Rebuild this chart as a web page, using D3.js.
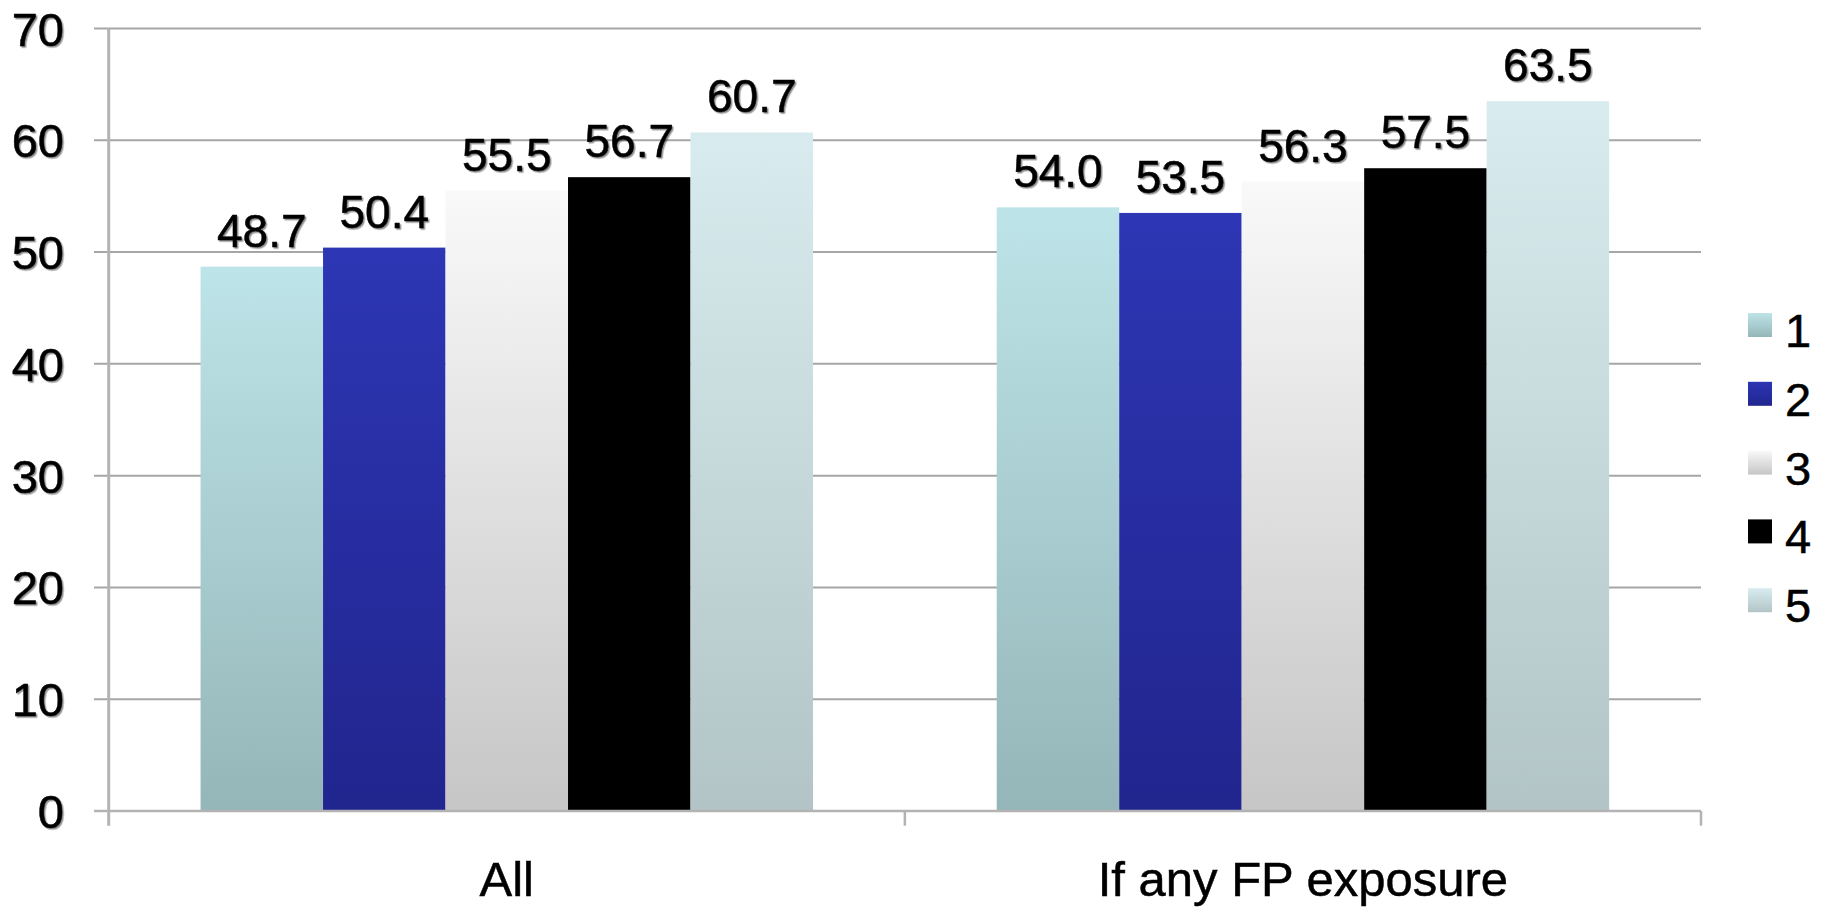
<!DOCTYPE html>
<html>
<head>
<meta charset="utf-8">
<script src="https://cdn.jsdelivr.net/npm/d3@7/dist/d3.min.js"></script>
<style>
  html, body { margin: 0; padding: 0; background: #fff; }
  svg { display: block; font-family: Arial, "Liberation Sans", sans-serif; }
  text { stroke: #000; stroke-width: 0.5px; }
</style>
</head>
<body>
<svg id="chart" width="1821" height="909"></svg>
<script>
// Groups along the x axis and the five series shown in each group
const categories = ["All", "If any FP exposure"];
const seriesNames = ["1", "2", "3", "4", "5"];
const values1 = [48.7, 54.0];
const values2 = [50.4, 53.5];
const values3 = [55.5, 56.3];
const values4 = [56.7, 57.5];
const values5 = [60.7, 63.5];
const yTicks = [0, 10, 20, 30, 40, 50, 60, 70];

// Top / bottom colours of each series' vertical gradient
const seriesTop    = ["#bde4e8", "#2d36b4", "#f9f9f9", "#000000", "#d8ecef"];
const seriesBottom = ["#95b6b9", "#21258e", "#c6c6c6", "#000000", "#b2c4c6"];

const seriesValues = [values1, values2, values3, values4, values5];

const svg = d3.select("#chart");
const plot = { left: 108.7, right: 1701, top: 28.5, bottom: 811 };
const tickLen = 14.7;

const x0 = d3.scaleBand().domain(categories).range([plot.left, plot.right]).padding(0);
const x1 = d3.scaleBand().domain(seriesNames).range([0, x0.bandwidth()])
  .paddingInner(0).paddingOuter(0.75);
const y = d3.scaleLinear().domain([0, 70]).range([plot.bottom, plot.top]);

// Gradients and text shadow
const defs = svg.append("defs");
seriesNames.forEach((s, i) => {
  const g = defs.append("linearGradient")
    .attr("id", "grad" + i)
    .attr("x1", 0).attr("y1", 0).attr("x2", 0).attr("y2", 1);
  g.append("stop").attr("offset", "0%").attr("stop-color", seriesTop[i]);
  g.append("stop").attr("offset", "100%").attr("stop-color", seriesBottom[i]);
});
const shadow = defs.append("filter").attr("id", "txtShadow")
  .attr("x", "-10%").attr("y", "-10%").attr("width", "130%").attr("height", "130%");
shadow.append("feDropShadow").attr("dx", 1.5).attr("dy", 1.5)
  .attr("stdDeviation", 0.6).attr("flood-color", "#000").attr("flood-opacity", 0.45);

// Horizontal gridlines, each with a short tick left of the axis
svg.append("g")
  .selectAll("line")
  .data(yTicks.filter(t => t > 0))
  .join("line")
  .attr("x1", plot.left - tickLen).attr("x2", plot.right)
  .attr("y1", d => y(d)).attr("y2", d => y(d))
  .attr("stroke", "#a6a6a6").attr("stroke-width", 2);

// Y tick labels
svg.append("g")
  .selectAll("text")
  .data(yTicks)
  .join("text")
  .attr("x", 64)
  .attr("y", d => y(d) + 17)
  .attr("text-anchor", "end")
  .attr("font-size", 47)
  .attr("fill", "#000")
  .attr("filter", "url(#txtShadow)")
  .text(d => d);

// Bars
const groups = svg.append("g")
  .selectAll("g")
  .data(categories.map((c, ci) => ({ c, ci })))
  .join("g")
  .attr("transform", d => `translate(${x0(d.c)},0)`);

const barData = d => seriesNames.map((s, si) => ({ s, si, v: seriesValues[si][d.ci] }));

groups.selectAll("rect")
  .data(barData)
  .join("rect")
  .attr("x", d => x1(d.s))
  .attr("width", x1.bandwidth())
  .attr("y", d => y(d.v))
  .attr("height", d => y(0) - y(d.v))
  .attr("fill", d => `url(#grad${d.si})`);

// Value labels above bars
groups.selectAll("text")
  .data(barData)
  .join("text")
  .attr("x", d => x1(d.s) + x1.bandwidth() / 2)
  .attr("y", d => y(d.v) - 20)
  .attr("text-anchor", "middle")
  .attr("font-size", 46)
  .attr("fill", "#000")
  .attr("filter", "url(#txtShadow)")
  .text(d => d.v.toFixed(1));

// Axis lines
svg.append("line")
  .attr("x1", plot.left).attr("x2", plot.left)
  .attr("y1", plot.top).attr("y2", plot.bottom + tickLen)
  .attr("stroke", "#b3b3b3").attr("stroke-width", 3);
svg.append("line")
  .attr("x1", plot.left - tickLen).attr("x2", plot.right)
  .attr("y1", plot.bottom).attr("y2", plot.bottom)
  .attr("stroke", "#b3b3b3").attr("stroke-width", 2.5);

// Category separators below the x axis
svg.append("g")
  .selectAll("line")
  .data(categories.map(c => x0(c) + x0.bandwidth()))
  .join("line")
  .attr("x1", d => d).attr("x2", d => d)
  .attr("y1", plot.bottom).attr("y2", plot.bottom + tickLen)
  .attr("stroke", "#b3b3b3").attr("stroke-width", 2.5);

// Category labels
svg.append("g")
  .selectAll("text")
  .data(categories)
  .join("text")
  .attr("x", d => x0(d) + x0.bandwidth() / 2)
  .attr("y", 896)
  .attr("text-anchor", "middle")
  .attr("font-size", 49)
  .attr("fill", "#000")
  .text(d => d);

// Legend
const legend = svg.append("g")
  .selectAll("g")
  .data(seriesNames)
  .join("g")
  .attr("transform", (d, i) => `translate(1748, ${313 + i * 68.8})`);
legend.append("rect")
  .attr("width", 24).attr("height", 24)
  .attr("fill", (d, i) => `url(#grad${i})`);
legend.append("text")
  .attr("x", 37).attr("y", 34)
  .attr("font-size", 47)
  .attr("fill", "#000")
  .text(d => d);
</script>
</body>
</html>
